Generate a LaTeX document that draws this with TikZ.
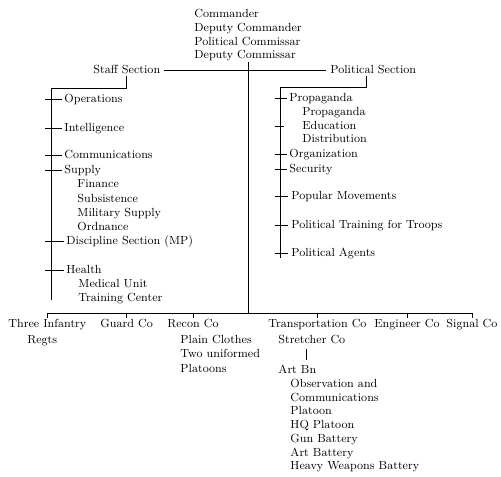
\documentclass[tikz,border=0pt]{standalone}
\usetikzlibrary{positioning,calc}
\begin{document}
\begin{tikzpicture}[x=0.8pt,y=-0.8pt,line width=0.7pt,
  lbl/.style={anchor=base west,inner sep=0pt,text height=6.7pt,text depth=1.8pt,font=\fontsize{9.4}{11}\selectfont},
  hqbox/.style={anchor=north west,inner sep=0pt,align=left,font=\fontsize{9.4}{11}\selectfont}]
\useasboundingbox (0,0) rectangle (501,476);

% headquarters
\node [hqbox] (hq) at (194,9) {Commander\\Deputy Commander\\Political Commissar\\Deputy Commissar};
\node [lbl] (staff) at (93,73) {Staff Section};
\node [lbl] (pol) at (330,73) {Political Section};

% staff section
\node [lbl] (op) at (64,102) {Operations};
\node [lbl] (int) at (64,131) {Intelligence};
\node [lbl] (com) at (64,158) {Communications};
\node [lbl] (sup) at (64,173) {Supply};
\node [lbl] (fin) at (77,187) {Finance};
\node [lbl] (sub) at (77,202) {Subsistence};
\node [lbl] (mil) at (77,216) {Military Supply};
\node [lbl] (ord) at (77,230) {Ordnance};
\node [lbl] (dis) at (66,244) {Discipline Section (MP)};
\node [lbl] (hea) at (66,273) {Health};
\node [lbl] (med) at (78,287) {Medical Unit};
\node [lbl] (trc) at (78,301) {Training Center};

% political section
\node [lbl] (prop) at (289,101) {Propaganda};
\node [lbl] (prop2) at (302,115) {Propaganda};
\node [lbl] (edu) at (302,129) {Education};
\node [lbl] (dist) at (302,142) {Distribution};
\node [lbl] (org) at (289,157) {Organization};
\node [lbl] (sec) at (289,172) {Security};
\node [lbl] (popm) at (291,199) {Popular Movements};
\node [lbl] (poltr) at (291,228) {Political Training for Troops};
\node [lbl] (agt) at (291,256) {Political Agents};

% subordinate units
\node [lbl] (inf) at (8,327) {Three Infantry};
\node [lbl] (regts) at (27,343) {Regts};
\node [lbl] (grd) at (100,327) {Guard Co};
\node [lbl] (rec) at (167,327) {Recon Co};
\node [lbl] (plc) at (180,343) {Plain Clothes};
\node [lbl] (two) at (180,357) {Two uniformed};
\node [lbl] (plt) at (180,372) {Platoons};
\node [lbl] (trn) at (268,327) {Transportation Co};
\node [lbl] (str) at (278,343) {Stretcher Co};
\node [lbl] (eng) at (374,327) {Engineer Co};
\node [lbl] (sig) at (446,327) {Signal Co};
\node [lbl] (art) at (278,373) {Art Bn};
\node [lbl] (obs) at (290,387) {Observation and};
\node [lbl] (acom) at (290,401) {Communications};
\node [lbl] (aplt) at (290,414) {Platoon};
\node [lbl] (hqp) at (290,428) {HQ Platoon};
\node [lbl] (gun) at (290,442) {Gun Battery};
\node [lbl] (abat) at (290,456) {Art Battery};
\node [lbl] (hwb) at (290,469) {Heavy Weapons Battery};

\coordinate (bus) at (250,313);
\coordinate (srail) at (51,88);
\coordinate (send) at (51,300);
\coordinate (prail) at (280,87);
\coordinate (pend) at (280,258);

% trunk and sections
\draw ([xshift=3pt]staff.east) -- ([xshift=-3pt]pol.west);
\draw (hq.south) -- (hq.south |- bus);
\draw (staff.south) |- (srail) -- (send);
\draw ([xshift=-5.5pt]pol.south) |- (prail) -- (pend);

% staff ticks
\draw ($(srail |- op.west)+(-6,0)$) -- ([xshift=-1.5pt]op.west);
\draw ($(srail |- int.west)+(-6,0)$) -- ([xshift=-1.5pt]int.west);
\draw ($(srail |- com.west)+(-6,0)$) -- ([xshift=-1.5pt]com.west);
\draw ($(srail |- sup.west)+(-6,0)$) -- ([xshift=-1.5pt]sup.west);
\draw ($(srail |- dis.west)+(-6,0)$) -- ([xshift=-1.5pt]dis.west);
\draw ($(srail |- hea.west)+(-6,0)$) -- ([xshift=-1.5pt]hea.west);

% political ticks
\draw ($(prail |- prop.west)+(-5,0)$) -- ([xshift=-1.5pt]prop.west);
\draw ($(prail |- edu.west)+(-5,0)$) -- +(9,0);
\draw ($(prail |- org.west)+(-5,0)$) -- ([xshift=-1.5pt]org.west);
\draw ($(prail |- sec.west)+(-5,0)$) -- ([xshift=-1.5pt]sec.west);
\draw ($(prail |- popm.west)+(-5,0)$) -- ([xshift=-2.5pt]popm.west);
\draw ($(prail |- poltr.west)+(-5,0)$) -- ([xshift=-2.5pt]poltr.west);
\draw ($(prail |- agt.west)+(-5,0)$) -- ([xshift=-2.5pt]agt.west);

% units
\draw (inf.north) -- (inf.north |- bus) -- (sig.north |- bus) -- (sig.north);
\draw (grd.north) -- (grd.north |- bus);
\draw (rec.north) -- (rec.north |- bus);
\draw (trn.north) -- (trn.north |- bus);
\draw (eng.north) -- (eng.north |- bus);
\draw [shorten <=3pt,shorten >=3pt] ([xshift=-4pt]str.south) -- ([xshift=-4pt]str.south |- art.north);
\end{tikzpicture}
\end{document}
